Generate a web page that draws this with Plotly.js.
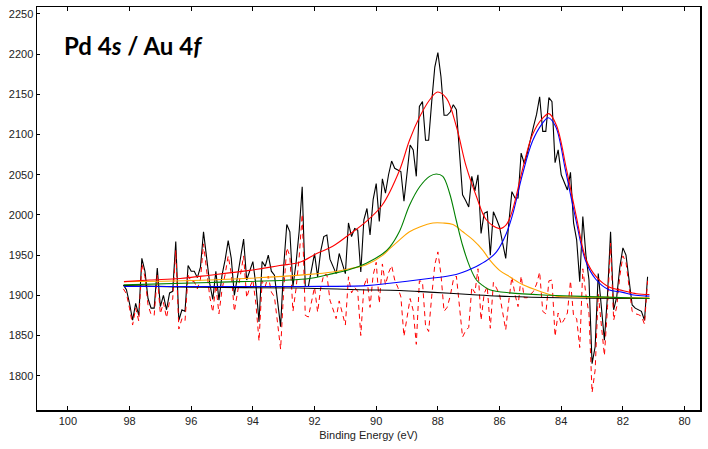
<!DOCTYPE html>
<html><head><meta charset="utf-8">
<script src="https://cdn.plot.ly/plotly-3.0.1.min.js"></script>
<style>html,body{margin:0;padding:0;background:#fff}#chart{width:708px;height:449px}</style>
</head><body><div id="chart"></div>
<script>
// Binding energy grid of measured data (eV), 0.1 eV step from 98.2
const dataStart = 98.2;
const dataStep = 0.1;
const counts = [1913,1907,1890,1869,1890,1875,1946,1930,1896,1884,
1884,1934,1886,1900,1882,1903,1905,1967,1869,1882,
1880,1937,1930,1930,1922,1935,1979,1950,1915,1895,
1930,1894,1925,1944,1968,1946,1900,1923,1945,1970,
1919,1932,1942,1912,1867,1942,1936,1950,1930,1925,
1894,1861,1936,1988,1979,1911,1940,1979,2035,1911,
1911,1930,1952,1923,1955,1973,1975,1945,1935,1927,
1952,1940,1927,1990,1973,1983,1981,1929,1994,2008,
1975,2019,2039,1992,2045,2027,2050,2067,2058,2056,
2054,2017,2050,2087,2081,2048,2135,2141,2093,2093,
2141,2184,2202,2172,2124,2124,2128,2137,2131,2081,
2025,2018,2010,2048,2030,2050,1977,2002,2004,1950,
2004,1995,1985,1965,1946,1990,2029,2021,2021,2077,
2064,2077,2095,2110,2125,2147,2104,2104,2146,2141,
2065,2081,2050,2040,2031,2053,1990,1969,1917,1998,
1950,1919,1815,1836,1927,1886,1844,1900,1979,1882,
1898,1935,1959,1950,1920,1888,1884,1882,1880,1869,1923];
const residual = [1908,1902,1884,1863,1884,1868,1939,1923,1888,1876,
1875,1925,1877,1891,1872,1893,1895,1956,1858,1871,
1868,1925,1917,1917,1908,1920,1964,1934,1899,1879,
1913,1877,1907,1926,1949,1927,1880,1903,1924,1949,
1897,1910,1919,1889,1843,1918,1911,1924,1904,1898,
1866,1833,1907,1959,1949,1880,1908,1947,2001,1875,
1873,1890,1910,1879,1909,1926,1926,1894,1882,1871,
1893,1878,1863,1923,1903,1910,1905,1850,1911,1922,
1885,1925,1941,1890,1939,1913,1928,1937,1919,1910,
1898,1849,1870,1896,1881,1839,1918,1917,1862,1855,
1899,1938,1954,1926,1880,1885,1899,1919,1924,1890,
1848,1856,1860,1910,1903,1933,1869,1902,1911,1859,
1916,1909,1901,1879,1857,1893,1923,1901,1886,1924,
1897,1897,1901,1905,1914,1929,1880,1877,1918,1919,
1849,1878,1864,1870,1878,1918,1874,1871,1835,1933,
1901,1877,1779,1807,1902,1864,1825,1885,1965,1869,
1886,1924,1949,1941,1911,1880,1877,1876,1874,1864,1918];

// Fit curves read at selected binding energies
const envE = [98.18,97.34,96.36,95.40,94.1,93.13,92.48,91.93,91.41,90.86,90.32,89.81,89.24,88.92,88.59,88.27,88.01,87.72,87.40,87.08,86.75,86.43,86.00,85.78,85.58,85.26,84.93,84.61,84.40,84.15,83.83,83.51,83.19,82.86,82.43,82.01,81.56,81.14];
const envelope = [1917,1919,1921,1925,1931,1937,1941,1952,1961,1976,1992,2012,2056,2093,2122,2143,2153,2145,2110,2060,2023,1994,1983,1988,2006,2056,2100,2120,2126,2111,2057,1998,1944,1923,1910,1906,1902,1901];

const pkE = [98.18,95.40,92.16,91.41,90.86,90.32,89.78,89.56,89.24,88.92,88.59,88.27,88.05,87.84,87.62,87.41,87.19,86.97,86.75,86.54,86.32,85.67,84.38,82.76,81.14];
const green = [1913,1916,1921,1927,1932,1940,1952,1960,1980,2012,2035,2048,2051,2048,2027,1994,1961,1936,1919,1912,1907,1903,1900,1898,1896];

const orE = [98.18,95.40,92.16,91.41,90.86,90.32,89.78,89.56,89.24,88.92,88.59,88.16,87.84,87.51,87.19,86.86,86.54,86.32,86.00,85.67,85.24,84.70,84.16,83.62,81.14];
const orange = [1917,1919,1926,1929,1933,1938,1950,1958,1969,1979,1985,1990,1990,1988,1979,1969,1956,1944,1931,1923,1913,1905,1899,1898,1897];

const blE = [98.18,92.48,90.32,89.56,88.49,87.41,86.86,86.65,86.32,86.10,85.78,85.58,85.26,84.93,84.61,84.42,84.18,83.86,83.53,83.21,82.88,82.46,82.04,81.59,81.14];
const blue = [1911,1911,1912,1915,1920,1926,1934,1938,1946,1954,1977,2000,2050,2092,2114,2121,2110,2055,1995,1943,1920,1907,1904,1900,1899];

const bgE = [98.18,95.73,92.48,90.54,89.24,88.27,86.97,86.00,84.06,81.14];
const background = [1912,1910,1909,1907,1906,1904,1901,1899,1897,1896];

const xTicks = [100,98,96,94,92,90,88,86,84,82,80];
const yTicks = [1800,1850,1900,1950,2000,2050,2100,2150,2200,2250];

const dataE = counts.map((_, i) => +(dataStart - dataStep * i).toFixed(2));

const fitLine = (c) => ({color: c, width: 1.1, shape: 'spline', smoothing: 1});
const traces = [
  {x: dataE, y: counts, mode: 'lines', line: {color: '#000', width: 1.1}, hoverinfo: 'skip'},
  {x: dataE, y: residual, mode: 'lines', line: {color: '#ff0000', width: 1, dash: '5px,4px'}},
  {x: bgE, y: background, mode: 'lines', line: {color: '#000', width: 1.1, shape: 'spline'}},
  {x: orE, y: orange, mode: 'lines', line: fitLine('#ffa500')},
  {x: pkE, y: green, mode: 'lines', line: fitLine('#008000')},
  {x: blE, y: blue, mode: 'lines', line: fitLine('#0000ff')},
  {x: envE, y: envelope, mode: 'lines', line: fitLine('#ff0000')}
];

const tickFont = {family: 'Liberation Sans, Arial, sans-serif', size: 11, color: '#222'};
const layout = {
  width: 708, height: 449,
  margin: {l: 37, r: 8, t: 7, b: 39},
  paper_bgcolor: '#fff', plot_bgcolor: '#fff',
  showlegend: false,
  xaxis: {
    range: [101.0, 79.5], autorange: false,
    tickvals: xTicks, ticktext: xTicks.map(String),
    ticks: 'inside', ticklen: 4, tickcolor: '#000', tickwidth: 1,
    showline: true, linecolor: '#000', linewidth: 1.5, mirror: 'ticks',
    showgrid: false, zeroline: false, tickfont: tickFont,
    title: {text: 'Binding Energy (eV)', font: tickFont, standoff: 5}
  },
  yaxis: {
    range: [1757.3, 2258.7], autorange: false,
    tickvals: yTicks, ticktext: yTicks.map(String),
    ticks: 'inside', ticklen: 3, tickcolor: '#000', tickwidth: 1,
    showline: true, linecolor: '#000', linewidth: 1.5, mirror: true,
    showgrid: false, zeroline: false, tickfont: tickFont
  },
  annotations: [{
    xref: 'paper', yref: 'paper', x: 0.038, y: 0.905, xanchor: 'left', yanchor: 'middle',
    text: '<b>Pd 4<i>s</i> / Au 4<i>f</i></b>', showarrow: false,
    font: {family: 'Lato, Open Sans, sans-serif', size: 24, color: '#000'}
  }]
};
Plotly.newPlot('chart', traces, layout, {displayModeBar: false, staticPlot: true});
</script></body></html>
